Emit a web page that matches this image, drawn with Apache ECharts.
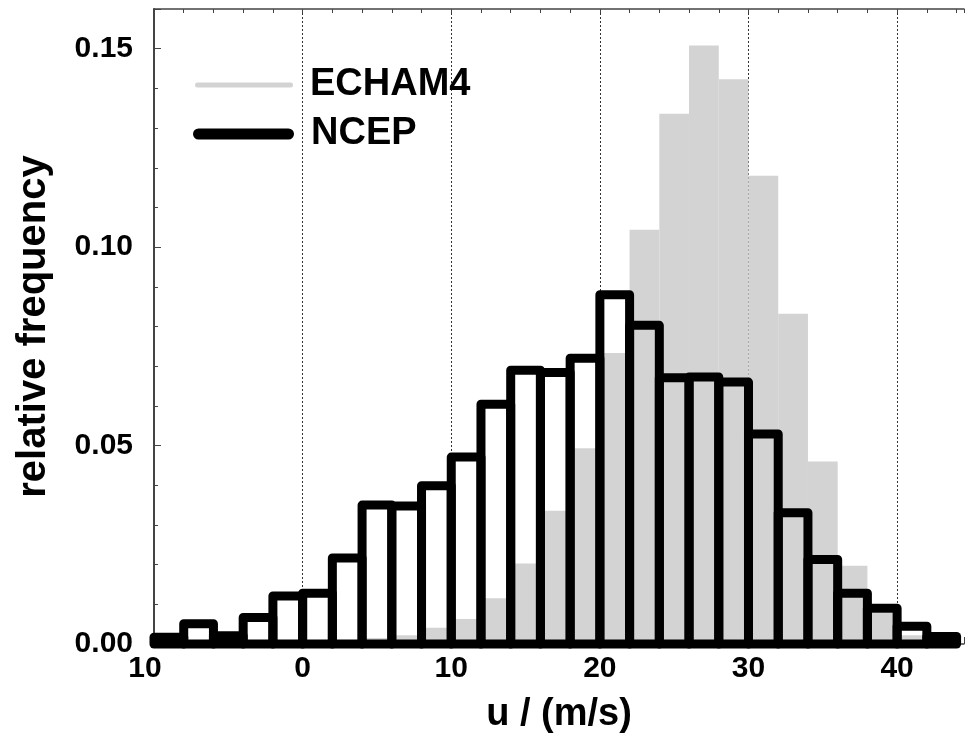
<!DOCTYPE html>
<html>
<head>
<meta charset="utf-8">
<script src="https://cdn.jsdelivr.net/npm/echarts@6/dist/echarts.min.js"></script>
<style>
html,body{margin:0;padding:0;background:#fff;}
#chart{width:965px;height:739px;}
</style>
</head>
<body>
<div id="chart"></div>
<script>
// bin edges (m/s), 2 m/s wide bins from -10 to 44
const binStarts = [-10,-8,-6,-4,-2,0,2,4,6,8,10,12,14,16,18,20,22,24,26,28,30,32,34,36,38,40,42];
const binWidth = 2;
// relative frequencies
const echam4 = [0,0,0,0,0,0.0002,0.0005,0.0015,0.0022,0.0041,0.0063,0.0115,0.0203,0.0336,0.0493,0.0733,0.1044,0.1336,0.1508,0.1423,0.118,0.0832,0.046,0.0197,0.0078,0.0022,0.0005];
const ncep = [0.0017,0.0051,0.0021,0.0067,0.0121,0.0128,0.0217,0.035,0.0348,0.0399,0.0471,0.0604,0.069,0.0684,0.072,0.088,0.0803,0.0671,0.0673,0.066,0.0529,0.0331,0.0213,0.0128,0.009,0.0045,0.0019];
// tick labels
const xTickValues = [-10,0,10,20,30,40];
const xTickLabels = ['{l|10}','0','10','20','30','40'];
const yTickValues = [0,0.05,0.10,0.15];
const yTickLabels = ['0.00','0.05','0.10','0.15'];

const FONT = "'Liberation Sans', Arial, Helvetica, sans-serif";

function toData(vals){
  return binStarts.map((s,i)=>[s, s+binWidth, vals[i]]);
}
function findLabel(values, labels, v){
  for (let i=0;i<values.length;i++){ if (Math.abs(values[i]-v) < 1e-9) return labels[i]; }
  return '';
}

const chart = echarts.init(document.getElementById('chart'), null, {renderer:'canvas'});

const commonX = {
  type:'value', min:-10, max:44.5, interval:10,
};

const option = {
  backgroundColor:'#fff',
  animation:false,
  grid:{left:154, right:1, top:9, bottom:91, containLabel:false},
  legend:[
    {
      left:190, top:60, orient:'vertical', itemGap:0,
      itemWidth:98, itemHeight:5,
      selectedMode:false,
      textStyle:{fontFamily:FONT, fontWeight:'bold', fontSize:38, color:'#000', lineHeight:40, padding:[0,0,0,12]},
      data:[{name:'ECHAM4', icon:'path://M2.5,0 H95.5 A2.5,2.5 0 0 1 95.5,5 H2.5 A2.5,2.5 0 0 1 2.5,0 Z', itemStyle:{color:'#d3d3d3'}}]
    },
    {
      left:188, top:109, orient:'vertical', itemGap:0,
      itemWidth:101, itemHeight:11,
      selectedMode:false,
      textStyle:{fontFamily:FONT, fontWeight:'bold', fontSize:38, color:'#000', lineHeight:40, padding:[0,0,0,12]},
      data:[{name:'NCEP', icon:'path://M5.5,0 H95.5 A5.5,5.5 0 0 1 95.5,11 H5.5 A5.5,5.5 0 0 1 5.5,0 Z', itemStyle:{color:'#000'}}]
    }
  ],
  xAxis:[
    Object.assign({}, commonX, {
      position:'bottom',
      name:'u / (m/s)', nameLocation:'middle', nameGap:52,
      nameTextStyle:{fontFamily:FONT, fontWeight:'bold', fontSize:38, color:'#000'},
      axisLine:{show:true, onZero:false, lineStyle:{color:'#444', width:1.5}},
      axisTick:{show:true, inside:true, length:7, lineStyle:{color:'#444'}},
      minorTick:{show:true, splitNumber:5, length:4, lineStyle:{color:'#444'}},
      axisLabel:{
        fontFamily:FONT, fontWeight:'bold', fontSize:30, color:'#000', margin:10,
        showMaxLabel:false,
        formatter:(v)=>findLabel(xTickValues, xTickLabels, v),
        rich:{l:{fontFamily:FONT, fontWeight:'bold', fontSize:30, color:'#000', padding:[0,18,0,0]}}
      },
      splitLine:{show:true, showMinLine:false, showMaxLine:false, lineStyle:{color:'#333', width:1, type:[2,2]}}
    }),
    Object.assign({}, commonX, {
      position:'top',
      axisLine:{show:true, onZero:false, lineStyle:{color:'#444', width:1.5}},
      axisTick:{show:true, inside:true, length:4, lineStyle:{color:'#444'}},
      minorTick:{show:true, splitNumber:5, length:4, lineStyle:{color:'#444'}},
      axisLabel:{show:false},
      splitLine:{show:false}
    })
  ],
  yAxis:{
    type:'value', min:0, max:0.16, interval:0.05, position:'left',
    name:'relative frequency', nameLocation:'middle', nameGap:100,
    nameTextStyle:{fontFamily:FONT, fontWeight:'bold', fontSize:40, color:'#000'},
    axisLine:{show:true, onZero:false, lineStyle:{color:'#444', width:2}},
    axisTick:{show:true, inside:true, length:7, lineStyle:{color:'#444'}},
    minorTick:{show:true, splitNumber:5, length:4, lineStyle:{color:'#444'}},
    axisLabel:{
      fontFamily:FONT, fontWeight:'bold', fontSize:30, color:'#000', margin:21,
      showMaxLabel:false,
      formatter:(v)=>findLabel(yTickValues, yTickLabels, v)
    },
    splitLine:{show:false}
  },
  series:[
    {
      name:'ECHAM4', type:'custom', xAxisIndex:0, yAxisIndex:0,
      color:'#d3d3d3',
      encode:{x:[0,1], y:2},
      data:toData(echam4),
      renderItem:function(params, api){
        const p0 = api.coord([api.value(0), api.value(2)]);
        const p1 = api.coord([api.value(1), 0]);
        return {type:'rect', shape:{x:p0[0], y:p0[1], width:p1[0]-p0[0], height:p1[1]-p0[1]},
          style:{fill:'#d3d3d3', stroke:null}};
      },
      z:2
    },
    {
      name:'NCEP', type:'custom', xAxisIndex:0, yAxisIndex:0,
      color:'#000',
      encode:{x:[0,1], y:2},
      data:toData(ncep),
      renderItem:function(params, api){
        const p0 = api.coord([api.value(0), api.value(2)]);
        const p1 = api.coord([api.value(1), 0]);
        return {type:'rect', shape:{x:p0[0], y:p0[1], width:p1[0]-p0[0], height:p1[1]-p0[1]},
          style:{fill:null, stroke:'#000', lineWidth:9, lineJoin:'round'}};
      },
      z:3
    }
  ]
};
chart.setOption(option);
</script>
</body>
</html>
